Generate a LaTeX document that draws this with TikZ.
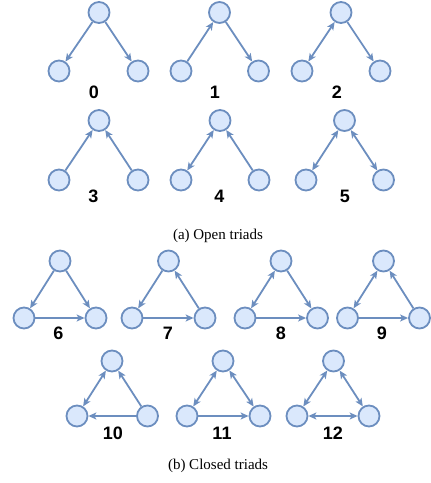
\documentclass[tikz,border=0pt]{standalone}
\usepackage{fontspec}
\setmainfont{Liberation Serif}
\newfontfamily\numfont{Liberation Sans}
\usetikzlibrary{arrows.meta}
\definecolor{triline}{HTML}{6C8EBF}
\definecolor{trifill}{HTML}{DAE8FC}

\begin{document}
\begin{tikzpicture}[x=1pt,y=-1pt,
  vertex/.style={circle,draw=triline,fill=trifill,line width=1.8pt,minimum size=21pt,inner sep=0pt},
  edge/.style={draw=triline,line width=1.8pt},
  >={Stealth[length=8pt,width=7pt,inset=2pt]},
  num/.style={font=\numfont\bfseries\fontsize{18}{18}\selectfont},
  caption/.style={font=\fontsize{15}{15}\selectfont}]
\useasboundingbox (0,0) rectangle (431,483);
%
% (a) Open triads
%
% Triad no 0
  \node[vertex] (t0) at (99,12.5) {};
  \node[vertex] (l0) at (59,71) {};
  \node[vertex] (r0) at (138,71) {};
  \node[num] (n0) at (94,92) {0};
  \draw[edge,->] (t0) -- (l0);
  \draw[edge,->] (t0) -- (r0);
% Triad no 1
  \node[vertex] (t1) at (219.5,12.5) {};
  \node[vertex] (l1) at (181,71) {};
  \node[vertex] (r1) at (258.5,71) {};
  \node[num] (n1) at (215,92) {1};
  \draw[edge,->] (l1) -- (t1);
  \draw[edge,->] (t1) -- (r1);
% Triad no 2
  \node[vertex] (t2) at (341,12.5) {};
  \node[vertex] (l2) at (302,71) {};
  \node[vertex] (r2) at (380,71) {};
  \node[num] (n2) at (337,92) {2};
  \draw[edge,<->] (t2) -- (l2);
  \draw[edge,->] (t2) -- (r2);
% Triad no 3
  \node[vertex] (t3) at (99,120.5) {};
  \node[vertex] (l3) at (59,180) {};
  \node[vertex] (r3) at (138,180) {};
  \node[num] (n3) at (93.5,196.5) {3};
  \draw[edge,->] (l3) -- (t3);
  \draw[edge,->] (r3) -- (t3);
% Triad no 4
  \node[vertex] (t4) at (220,120.5) {};
  \node[vertex] (l4) at (181,180) {};
  \node[vertex] (r4) at (259,180) {};
  \node[num] (n4) at (219.5,196.5) {4};
  \draw[edge,<->] (t4) -- (l4);
  \draw[edge,->] (r4) -- (t4);
% Triad no 5
  \node[vertex] (t5) at (344.5,120.5) {};
  \node[vertex] (l5) at (306,180) {};
  \node[vertex] (r5) at (383.5,180) {};
  \node[num] (n5) at (345,196.5) {5};
  \draw[edge,<->] (t5) -- (l5);
  \draw[edge,<->] (t5) -- (r5);
% Caption (a)
  \node[caption] (capa) at (218,236) {(a) Open triads};
%
% (b) Closed triads
%
% Triad no 6
  \node[vertex] (t6) at (60,261) {};
  \node[vertex] (l6) at (24,318) {};
  \node[vertex] (r6) at (96,318) {};
  \node[num] (n6) at (58.5,333) {6};
  \draw[edge,->] (t6) -- (l6);
  \draw[edge,->] (t6) -- (r6);
  \draw[edge,->] (l6) -- (r6);
% Triad no 7
  \node[vertex] (t7) at (168.5,261) {};
  \node[vertex] (l7) at (132,318) {};
  \node[vertex] (r7) at (205,318) {};
  \node[num] (n7) at (168,333) {7};
  \draw[edge,->] (t7) -- (l7);
  \draw[edge,->] (r7) -- (t7);
  \draw[edge,->] (l7) -- (r7);
% Triad no 8
  \node[vertex] (t8) at (281,261) {};
  \node[vertex] (l8) at (245,318) {};
  \node[vertex] (r8) at (317.5,318) {};
  \node[num] (n8) at (281,333) {8};
  \draw[edge,<->] (t8) -- (l8);
  \draw[edge,->] (t8) -- (r8);
  \draw[edge,->] (l8) -- (r8);
% Triad no 9
  \node[vertex] (t9) at (383.5,261) {};
  \node[vertex] (l9) at (347.5,318) {};
  \node[vertex] (r9) at (419.5,318) {};
  \node[num] (n9) at (382,333) {9};
  \draw[edge,<->] (t9) -- (l9);
  \draw[edge,->] (r9) -- (t9);
  \draw[edge,->] (l9) -- (r9);
% Triad no 10
  \node[vertex] (t10) at (112,361) {};
  \node[vertex] (l10) at (77,416) {};
  \node[vertex] (r10) at (147.5,416) {};
  \node[num] (n10) at (113,433) {10};
  \draw[edge,<->] (t10) -- (l10);
  \draw[edge,->] (r10) -- (t10);
  \draw[edge,->] (r10) -- (l10);
% Triad no 11
  \node[vertex] (t11) at (223,361) {};
  \node[vertex] (l11) at (187,416) {};
  \node[vertex] (r11) at (260,416) {};
  \node[num] (n11) at (222,433) {11};
  \draw[edge,<->] (t11) -- (l11);
  \draw[edge,<->] (t11) -- (r11);
  \draw[edge,->] (l11) -- (r11);
% Triad no 12
  \node[vertex] (t12) at (333.5,361) {};
  \node[vertex] (l12) at (297,416) {};
  \node[vertex] (r12) at (369,416) {};
  \node[num] (n12) at (333,433) {12};
  \draw[edge,<->] (t12) -- (l12);
  \draw[edge,<->] (t12) -- (r12);
  \draw[edge,<->] (l12) -- (r12);
% Caption (b)
  \node[caption] (capb) at (218,466) {(b) Closed triads};
\end{tikzpicture}
\end{document}
